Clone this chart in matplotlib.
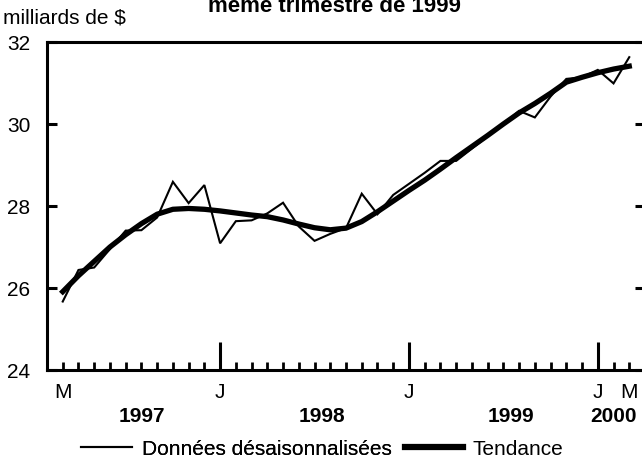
import matplotlib
matplotlib.use("Agg")
import matplotlib.pyplot as plt
import matplotlib.transforms as mtransforms
from matplotlib.lines import Line2D

plt.rcParams['font.family'] = ['Liberation Sans', 'DejaVu Sans']

# Monthly data, March 1997 .. March 2000
months = list(range(37))
donnees = [25.67, 26.44, 26.50, 26.95, 27.40, 27.41, 27.72, 28.59, 28.07, 28.51,
           27.09, 27.63, 27.65, 27.82, 28.08, 27.50, 27.15, 27.32, 27.46, 28.30,
           27.80, 28.27, 28.54, 28.81, 29.10, 29.10, 29.40, 29.70, 30.00, 30.32,
           30.16, 30.67, 31.10, 31.14, 31.32, 30.99, 31.63]
tendance = [25.91, 26.30, 26.65, 27.00, 27.30, 27.57, 27.80, 27.92, 27.94, 27.92,
            27.88, 27.83, 27.78, 27.74, 27.66, 27.56, 27.47, 27.42, 27.46, 27.62,
            27.86, 28.12, 28.38, 28.63, 28.90, 29.18, 29.45, 29.72, 30.00, 30.27,
            30.50, 30.75, 31.02, 31.14, 31.25, 31.34, 31.41]
month_labels = ['M', 'J', 'J', 'J', 'M']
month_label_pos = [0, 10, 22, 34, 36]
year_labels = ['1997', '1998', '1999', '2000']
year_label_pos = [5, 16.5, 28.5, 35.0]
yticks = [24, 26, 28, 30, 32]

FS = 15

fig = plt.figure(figsize=(6.42, 4.65), dpi=100)
ax = fig.add_axes([47/642, 95/465, 598/642, 328/465])

ax.plot(months, donnees, color='black', lw=1.5, solid_joinstyle='miter')
ax.plot(months, tendance, color='black', lw=3.8)

ax.set_xlim(-1, 37)
ax.set_ylim(24, 32)

for s in ax.spines.values():
    s.set_linewidth(2.2)

ax.set_yticks(yticks)
ax.set_yticklabels([str(v) for v in yticks], fontsize=FS)
ax.tick_params(axis='y', direction='in', length=7.5, width=2.2, right=True, pad=12)

major = [m for m in months if (m - 10) % 12 == 0]
minor = [m for m in months if m not in major]
ax.set_xticks(major)
ax.set_xticklabels([])
ax.set_xticks(minor, minor=True)
ax.tick_params(axis='x', which='major', direction='in', length=20, width=2.2)
ax.tick_params(axis='x', which='minor', direction='in', length=5.5, width=2.0)

trans = mtransforms.blended_transform_factory(ax.transData, ax.transAxes)
for p, lab in zip(month_label_pos, month_labels):
    ax.text(p, -22/328, lab, transform=trans, ha='center', va='center', fontsize=FS)
for p, lab in zip(year_label_pos, year_labels):
    ax.text(p, -46/328, lab, transform=trans, ha='center', va='center',
            fontsize=FS, fontweight='bold')

fig.text(3/642, 1 - 18/465, 'milliards de $', ha='left', va='center', fontsize=FS)
fig.text(335/642, 1 - 12/465, 'même trimestre de 1999', ha='center', va='baseline',
         fontsize=16, fontweight='bold')

h1 = Line2D([], [], color='black', lw=1.5)
h2 = Line2D([], [], color='black', lw=4.5)
leg1 = fig.legend([h1], ['Données désaisonnalisées'], loc='center left',
                  bbox_to_anchor=(81/642, 1 - 449/465), frameon=False, fontsize=FS,
                  handlelength=2.45, handletextpad=0.5, borderpad=0, borderaxespad=0)
leg2 = fig.legend([h2], ['Tendance'], loc='center left',
                  bbox_to_anchor=(405/642, 1 - 449/465), frameon=False, fontsize=FS,
                  handlelength=2.8, handletextpad=0.45, borderpad=0, borderaxespad=0)
fig.add_artist(leg1)

fig.savefig('out.png', dpi=100)
